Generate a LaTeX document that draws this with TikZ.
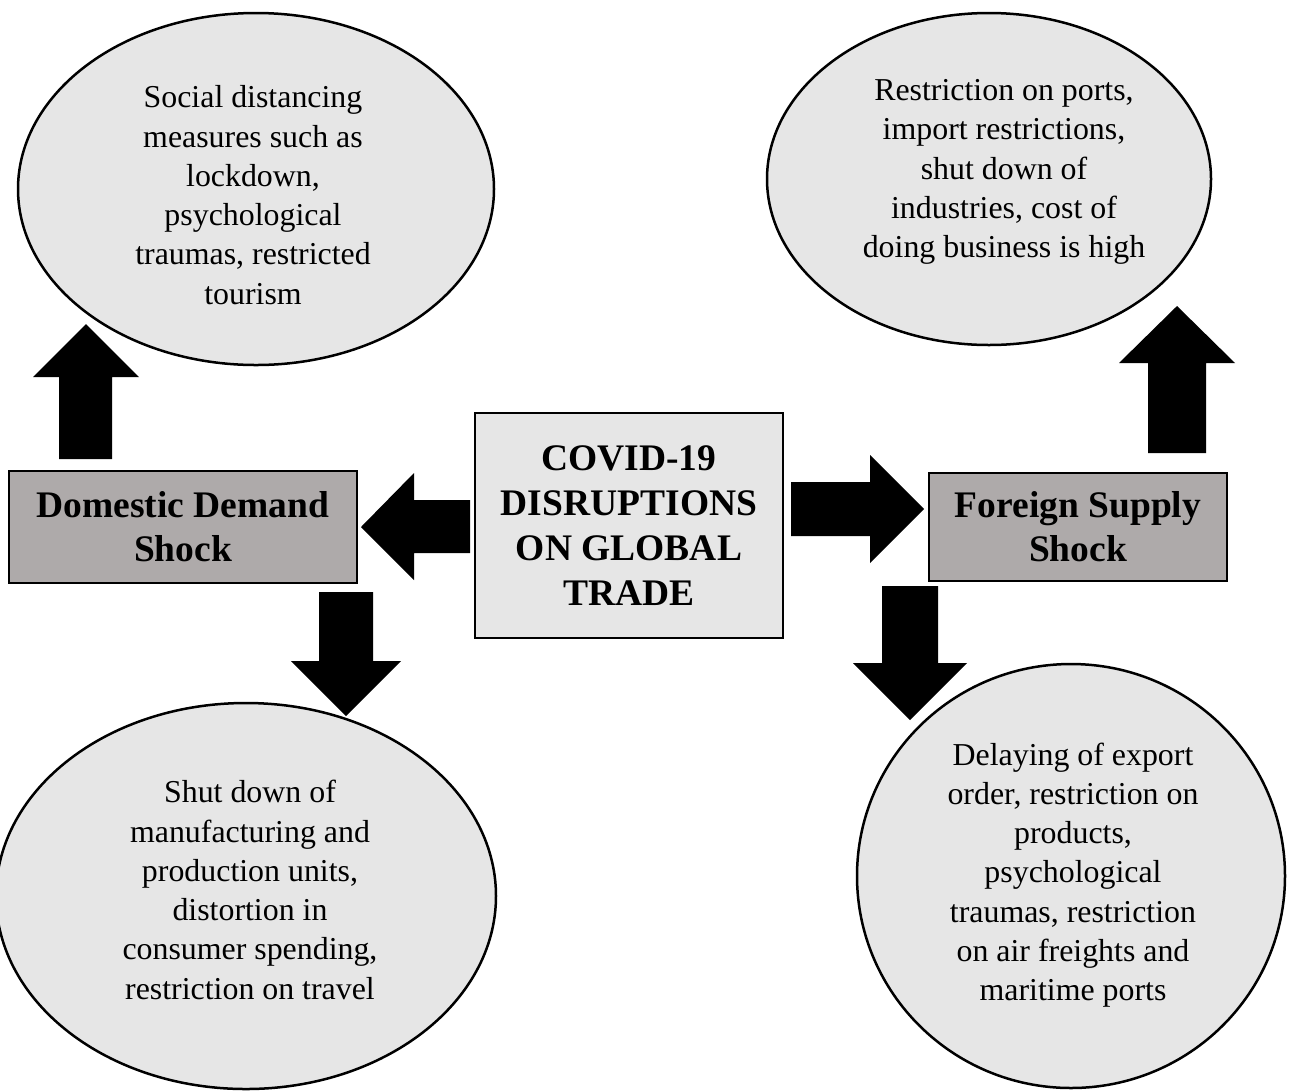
\documentclass[tikz,border=0pt]{standalone}
\usepackage{fontspec}
\setmainfont{Liberation Serif}
\definecolor{lightfill}{HTML}{E6E6E6}
\definecolor{darkfill}{HTML}{AEAAAA}
\tikzset{
  bubble/.style={draw=black, line width=2pt, fill=lightfill},
  bubbletext/.style={align=center, font=\fontsize{25.5}{31.4}\selectfont, inner sep=0pt},
  shockbox/.style={draw=black, line width=1.8pt, fill=darkfill, inner sep=0pt, align=center,
    font=\fontsize{30}{35}\selectfont\bfseries},
  centerbox/.style={draw=black, line width=1.8pt, fill=lightfill, inner sep=0pt, align=center,
    font=\fontsize{30}{36}\selectfont\bfseries},
  blockarrow/.style={fill=black, draw=none}
}
\begin{document}
\begin{tikzpicture}[x=0.8pt, y=-0.8pt]
\useasboundingbox (0,0) rectangle (1292,1090);
% ellipses
\draw[bubble] (256,189) ellipse [x radius=238, y radius=176];
\node[bubbletext] (tl) at (253,195) {Social distancing\\measures such as\\lockdown,\\psychological\\traumas, restricted\\tourism};
\draw[bubble] (989,179) ellipse [x radius=222, y radius=166];
\node[bubbletext] (tr) at (1004,172) {Restriction on ports,\\import restrictions,\\shut down of\\industries, cost of\\doing business is high};
\draw[bubble] (246,896) ellipse [x radius=250, y radius=193];
\node[bubbletext] (bl) at (250,890) {Shut down of\\manufacturing and\\production units,\\distortion in\\consumer spending,\\restriction on travel};
\draw[bubble] (1071,876) ellipse [x radius=214, y radius=212];
\node[bubbletext] (br) at (1073,875) {Delaying of export\\order, restriction on\\products,\\psychological\\traumas, restriction\\on air freights and\\maritime ports};
% boxes
\node[shockbox, minimum width=348*0.8pt, minimum height=112*0.8pt] (dd) at (183,527) {Domestic Demand\\Shock};
\node[shockbox, minimum width=298*0.8pt, minimum height=108*0.8pt] (fs) at (1078,527) {Foreign Supply\\Shock};
\node[centerbox, minimum width=308*0.8pt, minimum height=225*0.8pt] (cv) at (629,525.5) {COVID-19\\DISRUPTIONS\\ON GLOBAL\\TRADE};
% block arrows
% up-left
\fill[blockarrow] (59,459) -- (59,377) -- (33,377) -- (86,324) -- (139,377) -- (112,377) -- (112,459) -- cycle;
% left (center -> domestic)
\fill[blockarrow] (470,500) -- (414,500) -- (414,473) -- (361,527) -- (414,580) -- (414,553) -- (470,553) -- cycle;
% down-left
\fill[blockarrow] (319,592) -- (319,661) -- (291,661) -- (346,716) -- (401,661) -- (373,661) -- (373,592) -- cycle;
% right (center -> foreign)
\fill[blockarrow] (791,482) -- (870,482) -- (870,455) -- (924,509) -- (870,563) -- (870,536) -- (791,536) -- cycle;
% up-right
\fill[blockarrow] (1148,453) -- (1148,363) -- (1119,363) -- (1177,306) -- (1235,363) -- (1206,363) -- (1206,453) -- cycle;
% down-right
\fill[blockarrow] (882,586) -- (882,663) -- (853,663) -- (910,720) -- (967,663) -- (938,663) -- (938,586) -- cycle;
\end{tikzpicture}
\end{document}
